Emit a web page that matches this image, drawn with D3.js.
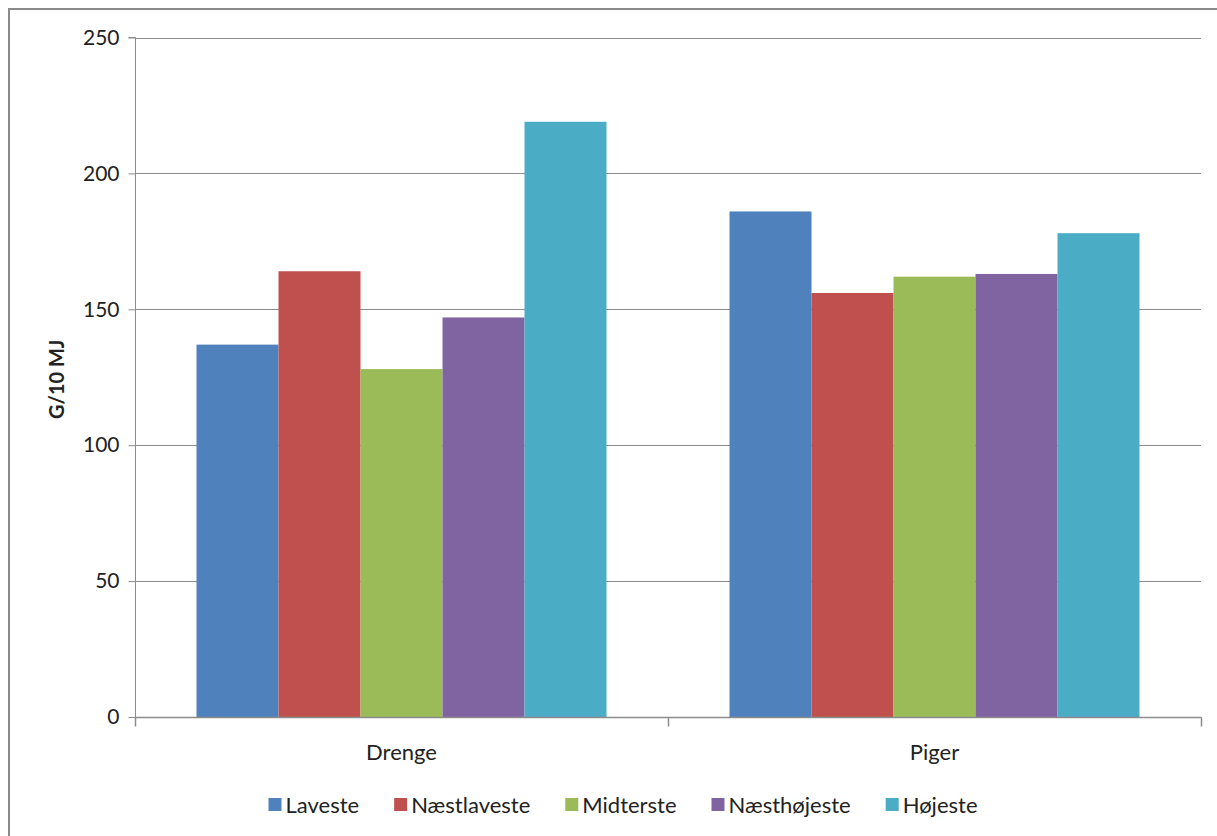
<!DOCTYPE html>
<html>
<head>
<meta charset="utf-8">
<script src="https://cdn.jsdelivr.net/npm/d3@7"></script>
<style>
  html, body { margin: 0; padding: 0; background: #fff; }
  svg { display: block; }
  text { font-family: Lato, "Open Sans", "Liberation Sans", sans-serif; fill: #222; }
</style>
</head>
<body>
<svg id="chart" width="1217" height="836"></svg>
<script>
// Groups, quintile series and their values (g per 10 MJ)
const groups = ["Drenge", "Piger"];
const series = ["Laveste", "Næstlaveste", "Midterste", "Næsthøjeste", "Højeste"];
const drengeValues = [137, 164, 128, 147, 219];
const pigerValues = [186, 156, 162, 163, 178];
const yTicks = [0, 50, 100, 150, 200, 250];
const colors = ["#4F81BD", "#C0504D", "#9BBB59", "#8064A2", "#4BACC6"];
const yTitle = "G/10 MJ";

const valuesByGroup = { "Drenge": drengeValues, "Piger": pigerValues };

const svg = d3.select("#chart");
const W = 1217, H = 836;

// Outer chart frame
svg.append("rect")
  .attr("x", 9).attr("y", 9)
  .attr("width", W + 20).attr("height", H + 20)
  .attr("fill", "#fff").attr("stroke", "#8a8a8a").attr("stroke-width", 2);

const plot = { left: 135, right: 1201, top: 37.5, bottom: 717 };

const y = d3.scaleLinear().domain([0, 250]).range([plot.bottom, plot.top]);
const x0 = d3.scaleBand().domain(groups).range([plot.left, plot.right]).paddingInner(0).paddingOuter(0);
// Excel-style gap width of 150%: 5 bars + 1.5 bar-width gap per group
const groupInner = d3.scaleBand().domain(series)
  .range([0, x0.bandwidth()])
  .paddingInner(0)
  .paddingOuter(0.75);

// Gridlines
svg.append("g").selectAll("line")
  .data(yTicks.filter(d => d > 0))
  .join("line")
  .attr("x1", plot.left).attr("x2", plot.right)
  .attr("y1", d => Math.round(y(d)) + 0.5).attr("y2", d => Math.round(y(d)) + 0.5)
  .attr("stroke", "#8c8c8c").attr("stroke-width", 1);

// Bars
const rows = groups.flatMap(g => series.map((s, i) => ({ group: g, series: s, value: valuesByGroup[g][i], color: colors[i] })));
svg.append("g").selectAll("rect")
  .data(rows)
  .join("rect")
  .attr("x", d => x0(d.group) + groupInner(d.series))
  .attr("width", groupInner.bandwidth())
  .attr("y", d => y(d.value))
  .attr("height", d => plot.bottom - y(d.value))
  .attr("fill", d => d.color);

// Y axis
const yAxis = d3.axisLeft(y).tickValues(yTicks).tickSize(7).tickPadding(9).tickFormat(d3.format("d"));
const gy = svg.append("g").attr("transform", `translate(${plot.left + 0.5},0)`).call(yAxis);
gy.select(".domain").attr("stroke", "#8c8c8c").attr("d", `M-7,${plot.top}H0V${plot.bottom}`);
gy.selectAll(".tick line").attr("stroke", "#8c8c8c");
gy.selectAll(".tick text").attr("font-size", 21).style("font-family", "Lato, 'Open Sans', sans-serif").attr("fill", "#222");

// X axis with ticks between groups
const gx = svg.append("g").attr("transform", `translate(0,${plot.bottom + 0.5})`);
gx.append("line").attr("x1", plot.left).attr("x2", plot.right + 0.5).attr("stroke", "#8c8c8c").attr("stroke-width", 1.5);
const bounds = [plot.left, x0("Piger"), plot.right];
gx.selectAll("line.tk").data(bounds).join("line").attr("class", "tk")
  .attr("x1", d => d + 0.5).attr("x2", d => d + 0.5)
  .attr("y1", 0).attr("y2", 9)
  .attr("stroke", "#8c8c8c").attr("stroke-width", 1.5);
gx.selectAll("text").data(groups).join("text")
  .attr("x", d => x0(d) + x0.bandwidth() / 2)
  .attr("y", 42)
  .attr("text-anchor", "middle")
  .attr("font-size", 22)
  .text(d => d);

// Y axis title
svg.append("text")
  .attr("transform", `translate(64,${(plot.top + plot.bottom) / 2 + 2}) rotate(-90)`)
  .attr("text-anchor", "middle")
  .attr("font-size", 20)
  .attr("font-weight", "bold")
  .text(yTitle);

// Legend
const legend = svg.append("g");
const items = legend.selectAll("g").data(series).join("g");
items.append("rect").attr("width", 13).attr("height", 13).attr("y", -6).attr("fill", (d, i) => colors[i]);
items.append("text").attr("x", 17).attr("y", 1).attr("dy", "0.35em").attr("font-size", 22).text(d => d);
let cx = 0;
const gap = 35;
items.each(function () {
  const w = 17 + this.querySelector("text").getComputedTextLength();
  d3.select(this).attr("transform", `translate(${cx},0)`);
  cx += w + gap;
});
const totalW = cx - gap;
legend.attr("transform", `translate(${623 - totalW / 2},804)`);
</script>
</body>
</html>
